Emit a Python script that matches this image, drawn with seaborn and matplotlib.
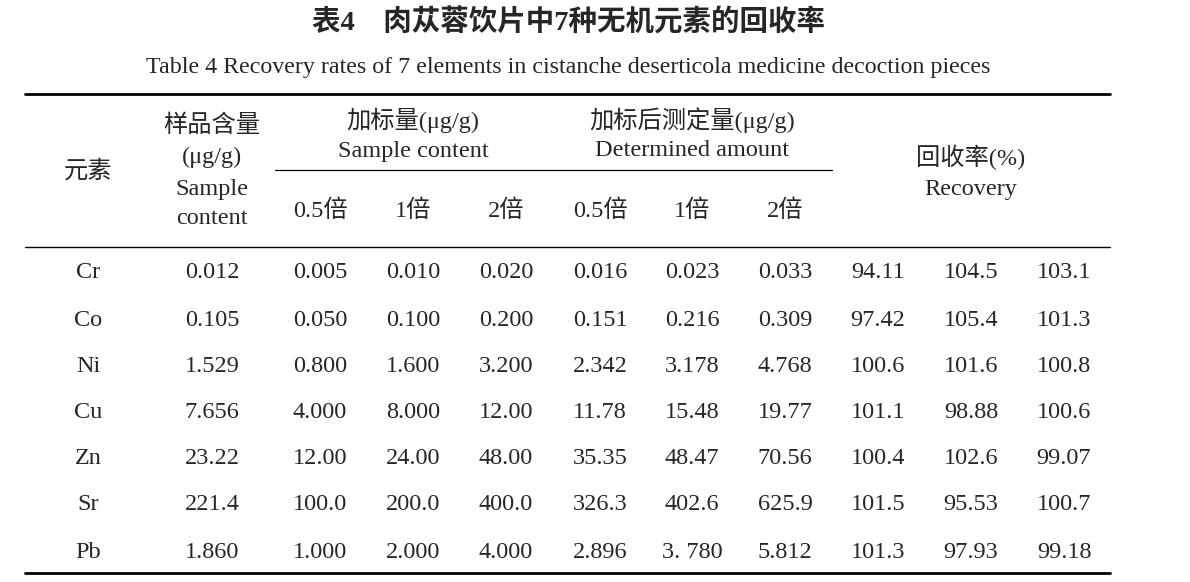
import matplotlib.pyplot as plt
import seaborn as sns

sns.set_theme(style="white")
plt.rcParams['font.family'] = ['Liberation Serif', 'Noto Sans CJK SC', 'DejaVu Sans']

title = "表4　肉苁蓉饮片中7种无机元素的回收率"
subtitle = "Table 4 Recovery rates of 7 elements in cistanche deserticola medicine decoction pieces"

elements = ["Cr", "Co", "Ni", "Cu", "Zn", "Sr", "Pb"]
sample = ["0.012", "0.105", "1.529", "7.656", "23.22", "221.4", "1.860"]
spiked = [
    ["0.005", "0.010", "0.020"],
    ["0.050", "0.100", "0.200"],
    ["0.800", "1.600", "3.200"],
    ["4.000", "8.000", "12.00"],
    ["12.00", "24.00", "48.00"],
    ["100.0", "200.0", "400.0"],
    ["1.000", "2.000", "4.000"],
]
determined = [
    ["0.016", "0.023", "0.033"],
    ["0.151", "0.216", "0.309"],
    ["2.342", "3.178", "4.768"],
    ["11.78", "15.48", "19.77"],
    ["35.35", "48.47", "70.56"],
    ["326.3", "402.6", "625.9"],
    ["2.896", "3. 780", "5.812"],
]
recovery = [
    ["94.11", "104.5", "103.1"],
    ["97.42", "105.4", "101.3"],
    ["100.6", "101.6", "100.8"],
    ["101.1", "98.88", "100.6"],
    ["100.4", "102.6", "99.07"],
    ["101.5", "95.53", "100.7"],
    ["101.3", "97.93", "99.18"],
]
multiples = ["0.5倍", "1倍", "2倍"]

col_x = [88, 212, 320, 413, 506, 600, 692, 785, 878, 971, 1064]
row_y = [273, 320, 366, 412, 459, 505, 552]

fig = plt.figure(figsize=(11.9, 5.82), dpi=100)
ax = fig.add_axes([0, 0, 1, 1])
ax.set_xlim(0, 1190)
ax.set_ylim(582, 0)
ax.axis("off")

fs = 17.5
ax.text(569, 23, title, fontsize=20.5, fontweight="bold", ha="center", va="center")
ax.text(568, 68, subtitle, fontsize=17.3, ha="center", va="center")

# rules
ax.plot([25, 1110], [94, 94], color="black", lw=2)
ax.plot([275, 832], [170, 170], color="black", lw=0.9)
ax.plot([25, 1110], [247, 247], color="black", lw=1)
ax.plot([25, 1110], [573, 573], color="black", lw=2)

# header
ax.text(88, 171, "元素", fontsize=fs, ha="center", va="center")
ax.text(212, 126, "样品含量", fontsize=fs, ha="center", va="center")
ax.text(212, 157, "(μg/g)", fontsize=fs, ha="center", va="center")
ax.text(212, 189, "Sample", fontsize=fs, ha="center", va="center")
ax.text(212, 219, "content", fontsize=fs, ha="center", va="center")
ax.text(413, 120, "加标量(μg/g)", fontsize=fs, ha="center", va="center")
ax.text(413, 151, "Sample content", fontsize=fs, ha="center", va="center")
ax.text(692, 120, "加标后测定量(μg/g)", fontsize=fs, ha="center", va="center")
ax.text(692, 151, "Determined amount", fontsize=fs, ha="center", va="center")
ax.text(971, 157, "回收率(%)", fontsize=fs, ha="center", va="center")
ax.text(971, 189, "Recovery", fontsize=fs, ha="center", va="center")
for i, m in enumerate(multiples):
    ax.text(col_x[2 + i], 211, m, fontsize=fs, ha="center", va="center")
    ax.text(col_x[5 + i], 211, m, fontsize=fs, ha="center", va="center")

# body
for r, y in enumerate(row_y):
    cells = [elements[r], sample[r]] + spiked[r] + determined[r] + recovery[r]
    for x, c in zip(col_x, cells):
        ax.text(x, y, c, fontsize=fs, ha="center", va="center")

plt.savefig("out.png", dpi=100)
